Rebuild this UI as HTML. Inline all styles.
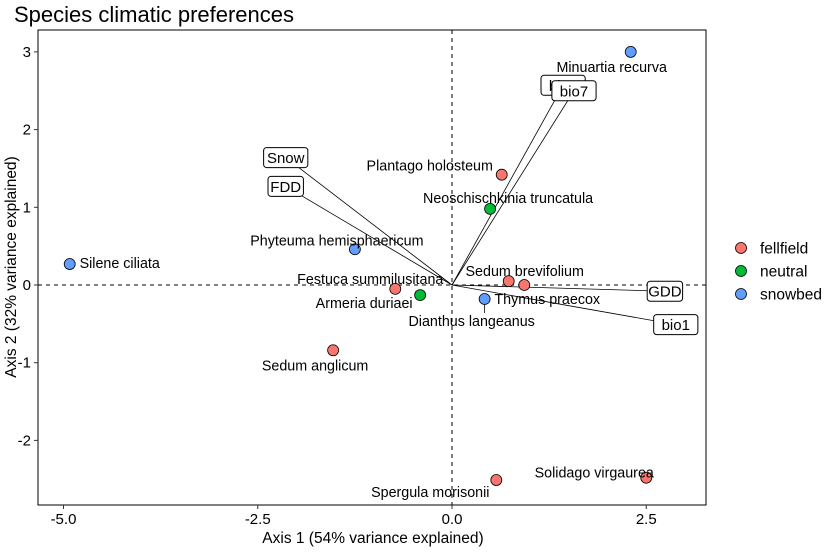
<!DOCTYPE html>
<html><head><meta charset="utf-8"><style>
body{margin:0;background:#fff}
svg{font-family:"Liberation Sans",Arial,sans-serif}
</style></head><body>
<svg id="c" width="832" height="550" xmlns="http://www.w3.org/2000/svg">
<text x="14" y="22" font-size="22" fill="#000">Species climatic preferences</text>
<g id="plot"></g>
</svg>
<script>
const species=["Minuartia recurva","Plantago holosteum","Neoschischkinia truncatula","Phyteuma hemisphaericum","Silene ciliata","Sedum brevifolium","Thymus praecox","Festuca summilusitana","Armeria duriaei","Dianthus langeanus","Sedum anglicum","Spergula morisonii","Solidago virgaurea"];
const groups=["snowbed","fellfield","neutral","snowbed","snowbed","fellfield","fellfield","fellfield","neutral","snowbed","fellfield","fellfield","fellfield"];
const axis1=[2.30,0.64,0.49,-1.25,-4.92,0.73,0.93,-0.73,-0.41,0.42,-1.53,0.57,2.50];
const axis2=[3.00,1.42,0.98,0.46,0.27,0.05,0.00,-0.05,-0.13,-0.18,-0.84,-2.51,-2.48];
const labelDx=[-19,-72,18,-18,50,16,23,-25,-56,-13,-18,-66,-52];
const labelDy=[15,-9,-11,-9,-1,-10,14,-10,8,22,15,12,-5];
const vars=["bio4","bio7","Snow","FDD","GDD","bio1"];
const vx=[1.43,1.57,-2.14,-2.14,2.74,2.88];
const vy=[2.57,2.50,1.64,1.27,-0.08,-0.51];
const xTicks=[-5,-2.5,0,2.5];
const xTickLabels=["-5.0","-2.5","0.0","2.5"];
const yTicks=[3,2,1,0,-1,-2];
const legendGroups=["fellfield","neutral","snowbed"];
const colors={fellfield:"#F8766D",neutral:"#00BA38",snowbed:"#619CFF"};

const NS="http://www.w3.org/2000/svg";
const g=document.getElementById("plot");
const L=38,R=706,T=30,B=505,S=77.7,X0=452,Y0=285;
const sx=v=>X0+v*S, sy=v=>Y0-v*S;
function el(t,a,p){const e=document.createElementNS(NS,t);for(const k in a)e.setAttribute(k,a[k]);(p||g).appendChild(e);return e;}

let e=el("rect",{x:L,y:T,width:R-L,height:B-T,fill:"none",stroke:"#000","stroke-width":1});


e=el("line",{x1:sx(0),x2:sx(0),y1:T,y2:B,stroke:"#000","stroke-dasharray":"4,4"});


e=el("line",{x1:L,x2:R,y1:sy(0),y2:sy(0),stroke:"#000","stroke-dasharray":"4,4"});



xTicks.forEach((v,i)=>{
  e=el("line",{x1:sx(v),x2:sx(v),y1:B,y2:B+4,stroke:"#333"});
  
  
  e=el("text",{x:sx(v),y:B+19,"text-anchor":"middle","font-size":15,fill:"#000"});
  e.textContent=xTickLabels[i];
  
  
});
yTicks.forEach(v=>{
  e=el("line",{x1:L-4,x2:L,y1:sy(v),y2:sy(v),stroke:"#333"});
  
  
  e=el("text",{x:L-7,y:sy(v)+5,"text-anchor":"end","font-size":15,fill:"#000"});
  e.textContent=String(v);
  
  
});
e=el("text",{x:373,y:543,"text-anchor":"middle","font-size":15.5,fill:"#000"});
e.textContent="Axis 1 (54% variance explained)";


e=el("text",{x:0,y:0,"text-anchor":"middle","font-size":15.5,fill:"#000",transform:"translate(16,267) rotate(-90)"});
e.textContent="Axis 2 (32% variance explained)";



vars.forEach((n,i)=>{
  e=el("line",{x1:sx(0),y1:sy(0),x2:sx(vx[i]),y2:sy(vy[i]),stroke:"#000","stroke-width":0.8});
  
  
});
vars.forEach((n,i)=>{
  const w=n.length*8.8+9;
  e=el("rect",{x:sx(vx[i])-w/2,y:sy(vy[i])-10,width:w,height:20,rx:3,fill:"#fff",stroke:"#000"});
  
  
  e=el("text",{x:sx(vx[i]),y:sy(vy[i])+5.5,"text-anchor":"middle","font-size":15,fill:"#000"});
  e.textContent=n;
  
  
});
species.forEach((n,i)=>{
  const px=sx(axis1[i]),py=sy(axis2[i]);
  if(Math.abs(labelDy[i])>18){
    e=el("line",{x1:px,y1:py,x2:px,y2:py+labelDy[i]-8,stroke:"#000","stroke-width":0.8});
    
    
  }
  e=el("circle",{cx:px,cy:py,r:5.5,fill:colors[groups[i]],stroke:"#000","stroke-width":0.8});
  
  
  e=el("text",{x:px+labelDx[i],y:py+labelDy[i]+5,"text-anchor":"middle","font-size":14.3,fill:"#000"});
  e.textContent=n;
  
  
});
legendGroups.forEach((n,i)=>{
  const y=248+i*23;
  e=el("circle",{cx:741,cy:y,r:5.5,fill:colors[n],stroke:"#000","stroke-width":0.8});
  
  
  e=el("text",{x:760,y:y+5.5,"font-size":15.5,fill:"#000"});
  e.textContent=n;
  
  
});
</script>
</body></html>
